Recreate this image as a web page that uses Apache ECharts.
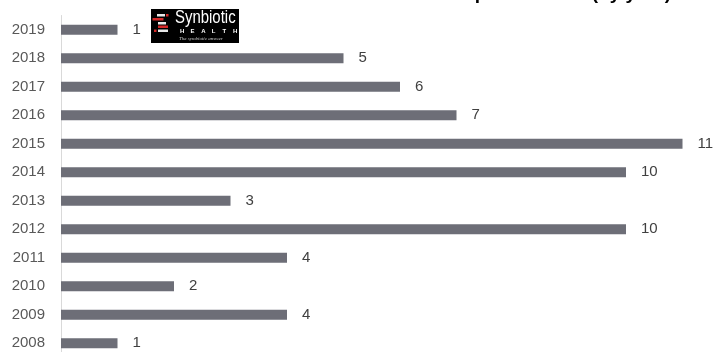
<!DOCTYPE html>
<html>
<head>
<meta charset="utf-8">
<script src="https://cdn.jsdelivr.net/npm/echarts@6/dist/echarts.min.js"></script>
<style>
  html, body { margin: 0; padding: 0; background: #fff; }
  #chart { width: 718px; height: 352px; }
</style>
</head>
<body>
<div id="chart"></div>
<script>
// Publications per year, oldest at the bottom
const years = ['2008', '2009', '2010', '2011', '2012', '2013', '2014', '2015', '2016', '2017', '2018', '2019'];
const publications = [1, 4, 2, 4, 10, 3, 10, 11, 7, 6, 5, 1];
const chartTitle = 'Number of publications (by year)';

const chart = echarts.init(document.getElementById('chart'));

const font = 'Liberation Sans, Arial, sans-serif';

// letters of the logo's second line, spread across the badge
const healthLetters = ['H', 'E', 'A', 'L', 'T', 'H'].map((ch, i) => ({
  type: 'text',
  x: 29 + i * 10.6,
  y: 19.5,
  style: { text: ch, fill: '#ffffff', font: 'bold 6px Liberation Sans, Arial, sans-serif' }
}));

chart.setOption({
  animation: false,
  backgroundColor: '#ffffff',
  title: {
    text: chartTitle,
    right: 42,
    top: -21,
    textStyle: { fontFamily: font, fontSize: 19, fontWeight: 'bold', color: '#000000' }
  },
  // plot area runs past the lower edge of the canvas
  grid: {
    left: 61, top: 15.5, width: 621.5, height: 342,
    containLabel: false,
    outerBoundsMode: 'none'
  },
  xAxis: {
    type: 'value',
    min: 0,
    max: 11,
    show: false
  },
  yAxis: {
    type: 'category',
    data: years,
    axisLine: { show: true, lineStyle: { color: '#d9d9d9', width: 1 } },
    axisTick: { show: false },
    axisLabel: { fontFamily: font, fontSize: 15, color: '#595959', margin: 16 }
  },
  series: [{
    type: 'bar',
    data: publications,
    barWidth: 10,
    itemStyle: { color: '#6d6e77' },
    label: {
      show: true,
      position: 'right',
      distance: 15,
      fontFamily: font,
      fontSize: 15,
      color: '#404040'
    }
  }],
  graphic: [{
    type: 'group',
    left: 151,
    top: 9,
    children: [
      { type: 'rect', shape: { x: 0, y: 0, width: 88, height: 34 }, style: { fill: '#000000' } },
      // stacked bar emblem
      { type: 'rect', shape: { x: 6, y: 5, width: 8, height: 2.5 }, style: { fill: '#e8e8e8' } },
      { type: 'rect', shape: { x: 15, y: 5, width: 2.5, height: 2.5 }, style: { fill: '#d62828' } },
      { type: 'rect', shape: { x: 1.5, y: 9, width: 11, height: 2.5 }, style: { fill: '#d62828' } },
      { type: 'rect', shape: { x: 7, y: 13, width: 8, height: 2.5 }, style: { fill: '#e8e8e8' } },
      { type: 'rect', shape: { x: 7, y: 16.5, width: 10, height: 2.5 }, style: { fill: '#d62828' } },
      { type: 'rect', shape: { x: 3, y: 20.5, width: 2.5, height: 2.5 }, style: { fill: '#d62828' } },
      { type: 'rect', shape: { x: 7, y: 20.5, width: 10, height: 2.5 }, style: { fill: '#e8e8e8' } },
      { type: 'text', x: 24, y: 0, scaleX: 0.83, style: { text: 'Synbiotic', fill: '#ffffff', font: '18px Liberation Sans, Arial, sans-serif' } },
      ...healthLetters,
      { type: 'text', x: 28, y: 27.5, style: { text: 'The symbiotic answer', fill: '#d0d0d0', font: 'italic 5px Liberation Serif, serif' } }
    ]
  }]
});
</script>
</body>
</html>
